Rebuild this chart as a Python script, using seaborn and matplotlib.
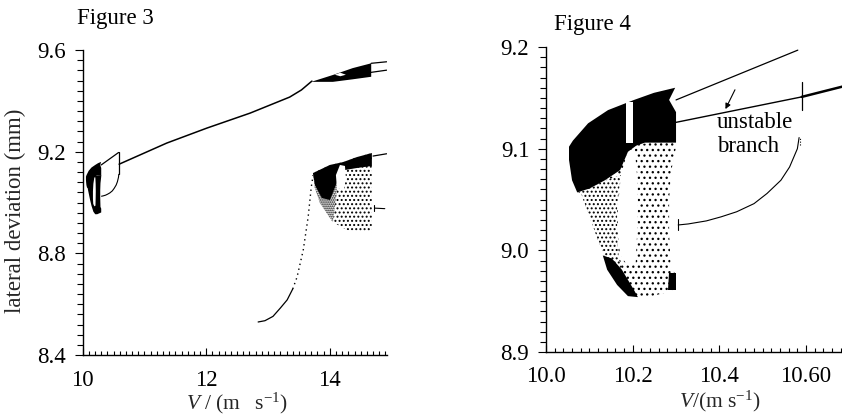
import matplotlib
matplotlib.use("Agg")
import matplotlib.pyplot as plt
import seaborn as sns
from matplotlib.ticker import FixedLocator, MultipleLocator

# ---------------------------------------------------------------- data
# Chaotic attractor near V = 10.05 ... 10.30 m/s (outer envelope, dense core,
# empty window between the two lobes, dense streak at the bottom)
attr_outer_v = [10.053, 10.074, 10.081, 10.097, 10.120, 10.143, 10.173, 10.203,
                10.235, 10.263, 10.300, 10.300, 10.288, 10.284, 10.284, 10.288,
                10.300, 10.300]
attr_outer_y = [9.098, 9.069, 9.056, 9.037, 9.010, 8.987, 8.964, 8.954,
                8.954, 8.957, 8.961, 8.976, 8.983, 9.017, 9.049, 9.076,
                9.102, 9.108]
attr_dense_v = [10.053, 10.062, 10.097, 10.143, 10.203, 10.249, 10.298, 10.284,
                10.300, 10.300, 10.263, 10.228, 10.208, 10.189, 10.171, 10.136,
                10.101, 10.072, 10.060, 10.053]
attr_dense_y = [9.102, 9.108, 9.125, 9.138, 9.148, 9.155, 9.160, 9.148,
                9.136, 9.106, 9.106, 9.106, 9.103, 9.097, 9.079, 9.069,
                9.061, 9.057, 9.069, 9.089]
attr_left_v = [10.072, 10.081, 10.097, 10.120, 10.143, 10.166, 10.175, 10.168,
               10.164, 10.164, 10.173, 10.136, 10.101]
attr_left_y = [9.057, 9.056, 9.037, 9.010, 8.987, 8.970, 8.981, 8.992,
               9.015, 9.044, 9.074, 9.069, 9.061]
attr_gap_v = [10.189, 10.173, 10.166, 10.166, 10.171, 10.189, 10.207, 10.210,
              10.212, 10.210, 10.205]
attr_gap_y = [9.099, 9.074, 9.044, 9.015, 8.995, 8.985, 8.988, 9.015,
              9.044, 9.074, 9.099]
attr_window_v = [10.185, 10.200, 10.200, 10.185]
attr_window_y = [9.146, 9.146, 9.106, 9.106]
attr_streak_v = [10.131, 10.152, 10.175, 10.203, 10.212, 10.189, 10.164, 10.141]
attr_streak_y = [8.995, 8.992, 8.981, 8.961, 8.954, 8.955, 8.966, 8.981]
attr_corner_v = [10.284, 10.300, 10.300, 10.281]
attr_corner_y = [8.978, 8.978, 8.961, 8.961]

# Periodic branches leaving the attractor
upper_v = [10.300, 10.581]
upper_y = [9.148, 9.197]
lower_v = [10.584, 10.580, 10.572, 10.562, 10.542, 10.510, 10.480, 10.440,
           10.404, 10.370, 10.328, 10.305]
lower_y = [9.111, 9.100, 9.092, 9.082, 9.069, 9.056, 9.046, 9.038,
           9.033, 9.029, 9.026, 9.025]
fold_v = [10.580, 10.580]
fold_y = [9.197, 9.111]
fold_tick_v = [10.590, 10.590]
fold_tick_y = [9.138, 9.166]
lower_end_v = [10.305, 10.305]
lower_end_y = [9.020, 9.031]
unstable_v = [10.173, 10.590]
unstable_y = [9.115, 9.151]

# Steady (symmetric) solution
stable_v = [10.59, 11.36, 12.01, 12.71, 13.35, 13.54, 13.71]
stable_y = [9.151, 9.234, 9.293, 9.352, 9.415, 9.443, 9.478]

# Fan of periodic orbits beyond V = 13.7 m/s
fan_v = [13.70, 14.05, 14.37, 14.67, 14.67, 14.37, 14.05, 13.70]
fan_y = [9.475, 9.502, 9.529, 9.548, 9.495, 9.485, 9.475, 9.475]
fan_hole_v = [14.08, 14.17, 14.26, 14.17]
fan_hole_y = [9.503, 9.511, 9.503, 9.497]
fan_top_v = [14.67, 14.92]
fan_top_y = [9.548, 9.554]
fan_bot_v = [14.60, 14.92]
fan_bot_y = [9.510, 9.521]

# Second attractor beyond V = 13.7 m/s
att2_outer_v = [13.727, 14.002, 14.212, 14.439, 14.681, 14.681, 14.487, 14.277,
                14.050, 13.840, 13.759]
att2_outer_y = [9.116, 9.148, 9.159, 9.179, 9.195, 8.884, 8.888, 8.892,
                8.923, 8.998, 9.057]
att2_left_v = [13.727, 14.130, 14.100, 14.050, 13.840, 13.759]
att2_left_y = [9.116, 9.090, 9.020, 8.923, 8.998, 9.057]
att2_dense_v = [13.727, 14.002, 14.212, 14.439, 14.681, 14.681, 14.439, 14.245,
                14.131, 14.002, 13.872, 13.759]
att2_dense_y = [9.116, 9.148, 9.159, 9.179, 9.195, 9.144, 9.136, 9.128,
                9.089, 9.010, 9.018, 9.069]
att2_gap_v = [14.164, 14.099, 14.115, 14.228, 14.261, 14.245]
att2_gap_y = [9.148, 9.108, 9.057, 9.049, 9.096, 9.144]
att2_top_v = [14.70, 14.92]
att2_top_y = [9.183, 9.192]
att2_tail_v = [14.73, 14.89]
att2_tail_y = [8.978, 8.976]
att2_tail_tick_v = [14.71, 14.71]
att2_tail_tick_y = [8.967, 8.990]

# Branch returning from the low-amplitude side
return_v = [12.84, 12.95, 13.08, 13.20, 13.31, 13.40, 13.47, 13.57, 13.65, 13.70, 13.73]
return_y = [8.530, 8.535, 8.552, 8.585, 8.617, 8.660, 8.707, 8.813, 8.944, 9.061, 9.108]

# Axis ticks
f3_xticks = [10, 12, 14]
f3_xlabels = ["10", "12", "14"]
f3_yticks = [8.4, 8.8, 9.2, 9.6]
f3_ylabels = ["8.4", "8.8", "9.2", "9.6"]
f4_xticks = [10.0, 10.2, 10.4, 10.6]
f4_xlabels = ["10.0", "10.2", "10.4", "10.60"]
f4_yticks = [8.9, 9.0, 9.1, 9.2]
f4_ylabels = ["8.9", "9.0", "9.1", "9.2"]

# ---------------------------------------------------------------- style
sns.set_theme(style="ticks")
plt.rcParams.update({
    "font.family": ["Liberation Serif", "DejaVu Serif"],
    "mathtext.fontset": "custom",
    "mathtext.rm": "Liberation Serif",
    "mathtext.it": "Liberation Serif:italic",
    "hatch.color": "black",
    "hatch.linewidth": 0.9,
    "axes.linewidth": 1.0,
    "axes.edgecolor": "black",
    "xtick.color": "black",
    "ytick.color": "black",
    "text.color": "black",
})
FS = 16.5
FS_X = 15.5

fig = plt.figure(figsize=(8.42, 4.16), dpi=100)
ax3 = fig.add_axes([0.0982, 0.1466, 0.361, 0.733])
ax4 = fig.add_axes([0.6485, 0.1538, 0.3515, 0.733])


def line(ax, v, y, lw=0.9, **kw):
    sns.lineplot(x=v, y=y, ax=ax, sort=False, estimator=None,
                 color="black", lw=lw, **kw)


def region(ax, v, y, face="black", hatch=None, z=2):
    ax.fill(v, y, facecolor=face, edgecolor="black", hatch=hatch,
            lw=0, zorder=z)


# ---------------------------------------------------------------- Figure 3
region(ax3, attr_outer_v, attr_outer_y)
region(ax3, attr_dense_v, attr_dense_y)
region(ax3, attr_gap_v, attr_gap_y, face="white", z=3)
line(ax3, upper_v, upper_y)
line(ax3, fold_v, fold_y)
line(ax3, lower_v, lower_y, lw=0.8)
line(ax3, stable_v, stable_y, lw=1.1)

region(ax3, fan_v, fan_y)
region(ax3, fan_hole_v, fan_hole_y, face="white", z=3)
line(ax3, fan_top_v, fan_top_y)
line(ax3, fan_bot_v, fan_bot_y)

region(ax3, att2_outer_v, att2_outer_y, face="white", hatch="....")
region(ax3, att2_left_v, att2_left_y, face="white", hatch="........", z=2.5)
region(ax3, att2_dense_v, att2_dense_y, z=2.6)
region(ax3, att2_gap_v, att2_gap_y, face="white", z=3)
line(ax3, att2_top_v, att2_top_y)
line(ax3, att2_tail_v, att2_tail_y, lw=0.8)
line(ax3, att2_tail_tick_v, att2_tail_tick_y, lw=0.8)

line(ax3, return_v[:6], return_y[:6], lw=0.9)
line(ax3, return_v[5:], return_y[5:], lw=1.0, linestyle=(0, (1, 2.6)))

ax3.set_xlim(10, 14.92)
ax3.set_ylim(8.4, 9.6)
ax3.xaxis.set_major_locator(FixedLocator(f3_xticks))
ax3.xaxis.set_minor_locator(MultipleLocator(0.1))
ax3.yaxis.set_major_locator(FixedLocator(f3_yticks))
ax3.yaxis.set_minor_locator(MultipleLocator(0.04))
ax3.set_xticklabels(f3_xlabels)
ax3.set_yticklabels(f3_ylabels)
ax3.set_xlabel(r"$V\ /\ (\mathrm{m\quad s^{-1}})$", fontsize=FS_X)
ax3.xaxis.set_label_coords(0.508, -0.116)
ax3.set_ylabel("lateral deviation (mm)", fontsize=FS)
ax3.yaxis.set_label_coords(-0.185, 0.472)

# ---------------------------------------------------------------- Figure 4
region(ax4, attr_outer_v, attr_outer_y, face="white", hatch="...")
region(ax4, attr_left_v, attr_left_y, face="white", hatch="....", z=2.5)
region(ax4, attr_dense_v, attr_dense_y, z=2.6)
region(ax4, attr_streak_v, attr_streak_y, z=2.6)
region(ax4, attr_corner_v, attr_corner_y, z=2.6)
region(ax4, attr_gap_v, attr_gap_y, face="white", z=2.55)
region(ax4, attr_window_v, attr_window_y, face="white", z=3)
line(ax4, [10.203, 10.203], [9.146, 9.106], lw=0.8, linestyle=(0, (1, 1.5)))

line(ax4, upper_v, upper_y, lw=0.9)
line(ax4, unstable_v, unstable_y, lw=1.0)
line(ax4, stable_v, stable_y, lw=1.8)
line(ax4, lower_v, lower_y, lw=0.8)
line(ax4, lower_end_v, lower_end_y, lw=0.8)
line(ax4, fold_tick_v, fold_tick_y, lw=0.9)
line(ax4, [10.585, 10.585], [9.104, 9.112], lw=0.8, linestyle=(0, (1, 1.5)))

ax4.annotate("", xy=(10.414, 9.139), xytext=(10.436, 9.158),
             arrowprops=dict(arrowstyle="-|>", color="black", lw=0.8,
                             mutation_scale=8, shrinkA=0, shrinkB=0))
ax4.text(10.394, 9.120, "unstable", fontsize=FS, ha="left", va="baseline")
ax4.text(10.394, 9.097, "branch", fontsize=FS, ha="left", va="baseline")

ax4.set_xlim(10.0, 10.683)
ax4.set_ylim(8.9, 9.2)
ax4.xaxis.set_major_locator(FixedLocator(f4_xticks))
ax4.xaxis.set_minor_locator(MultipleLocator(0.02))
ax4.yaxis.set_major_locator(FixedLocator(f4_yticks))
ax4.yaxis.set_minor_locator(MultipleLocator(0.01))
ax4.set_xticklabels(f4_xlabels)
ax4.set_yticklabels(f4_ylabels)
ax4.set_xlabel(r"$V/(\mathrm{m\ s^{-1}})$", fontsize=FS_X)
ax4.xaxis.set_label_coords(0.588, -0.122)
ax4.set_ylabel("")

for ax, xpad in ((ax3, 10.5), (ax4, 10)):
    sns.despine(ax=ax)
    ax.tick_params(axis="x", which="both", direction="in", labelsize=FS,
                   pad=xpad, width=0.8)
    ax.tick_params(axis="x", which="major", length=5)
    ax.tick_params(axis="x", which="minor", length=3)
    ax.tick_params(axis="y", which="both", direction="out", labelsize=FS,
                   pad=6, width=0.8)
    ax.tick_params(axis="y", which="major", length=6)
    ax.tick_params(axis="y", which="minor", length=4)

fig.text(77 / 842, 1 - 24 / 416, "Figure 3", fontsize=FS, va="baseline")
fig.text(554 / 842, 1 - 30 / 416, "Figure 4", fontsize=FS, va="baseline")

fig.savefig("out.png", dpi=100)
